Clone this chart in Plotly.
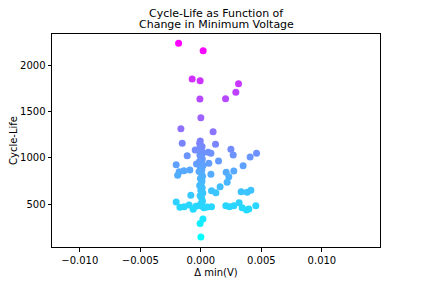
import plotly.graph_objects as go

# Δ min(V) and cycle-life values
delta_min_v = [
    -0.00184, 0.00019, -0.00072, -0.00006, 0.00311, 0.00289, -0.00008, 0.00204,
    0.00000, -0.00165, 0.00101,
    -0.00154, -0.00010, 0.00121, -0.00113, -0.00047, 0.00060, 0.00083, 0.00248,
    0.00267, 0.00460, 0.00407, 0.00146, 0.00066, -0.00204, -0.00036, 0.00349,
    -0.00179, -0.00140, -0.00091, -0.00192, 0.00272, 0.00209, 0.00083, 0.00231,
    0.00217, 0.00159, 0.00088, 0.00124, 0.00333, 0.00382, 0.00413, -0.00083,
    -0.00204, -0.00173, -0.00138, -0.00097, -0.00064, -0.00040, 0.00025, 0.00052,
    0.00088, 0.00206, 0.00237, 0.00272, 0.00316, 0.00341, 0.00377, 0.00396,
    0.00454, 0.00017, -0.00006, 0.00000,
    # dense column near zero
    -0.00005, 0.00010, -0.00010, 0.00005, 0.00015, -0.00008, 0.00002, 0.00012,
    -0.00012, 0.00004, 0.00018, -0.00003, 0.00008, -0.00015, 0.00006, 0.00014,
    -0.00004, 0.00009, 0.00003, -0.00010, 0.00011, 0.00000, 0.00016, -0.00006,
    0.00007, 0.00013, -0.00002, 0.00005,
]
cycle_life = [
    2235, 2155, 1850, 1832, 1799, 1706, 1634, 1637,
    1432, 1313, 1281,
    1155, 1155, 1145, 1022, 1083, 1058, 1047, 1091,
    1029, 1047, 1007, 964, 939, 924, 932, 914,
    849, 860, 867, 810, 856, 842, 821, 795,
    734, 687, 644, 622, 633, 626, 648, 594,
    522, 464, 471, 489, 443, 476, 460, 468,
    471, 482, 471, 482, 514, 460, 435, 446,
    482, 338, 291, 144,
    1180, 1120, 1100, 1075, 1050, 1030, 1005, 985,
    960, 940, 915, 895, 870, 850, 825, 800,
    775, 750, 725, 700, 675, 650, 620, 590,
    560, 530, 500, 480,
]

title_lines = ["Cycle-Life as Function of", "Change in Minimum Voltage"]

fig = go.Figure(go.Scatter(
    x=delta_min_v,
    y=cycle_life,
    mode="markers",
    marker=dict(
        size=7,
        color=cycle_life,
        colorscale=[[0, "rgb(0,255,255)"], [1, "rgb(255,0,255)"]],
        line=dict(width=0),
    ),
    hoverinfo="x+y",
))

axis_common = dict(
    showline=True, mirror=True, linecolor="black", linewidth=1,
    ticks="outside", ticklen=3.5, tickwidth=1, tickcolor="black",
    showgrid=False, zeroline=False, automargin=False,
    tickfont=dict(family="DejaVu Sans", size=10, color="black"),
)

font_t = dict(family="DejaVu Sans", size=11, color="black")
fig.update_layout(
    width=415, height=274,
    margin=dict(l=44, r=43, t=26, b=35),
    paper_bgcolor="white", plot_bgcolor="white",
    showlegend=False,
    annotations=[
        dict(text=title_lines[0], xref="paper", yref="paper", x=0.5, y=1.0,
             yshift=21, xanchor="center", yanchor="middle", showarrow=False, font=font_t),
        dict(text=title_lines[1], xref="paper", yref="paper", x=0.5, y=1.0,
             yshift=9.5, xanchor="center", yanchor="middle", showarrow=False, font=font_t),
    ],
    xaxis=dict(
        range=[-0.0123, 0.0148],
        tickvals=[-0.010, -0.005, 0.0, 0.005, 0.010],
        ticktext=["\u22120.010", "\u22120.005", "0.000", "0.005", "0.010"],
        title=dict(text="\u0394 min(V)", standoff=4,
                   font=dict(family="DejaVu Sans", size=10, color="black")),
        **axis_common,
    ),
    yaxis=dict(
        range=[36, 2336],
        tickvals=[500, 1000, 1500, 2000],
        title=dict(text="Cycle-Life", standoff=8,
                   font=dict(family="DejaVu Sans", size=10, color="black")),
        **axis_common,
    ),
)

fig.write_html("out.html")
